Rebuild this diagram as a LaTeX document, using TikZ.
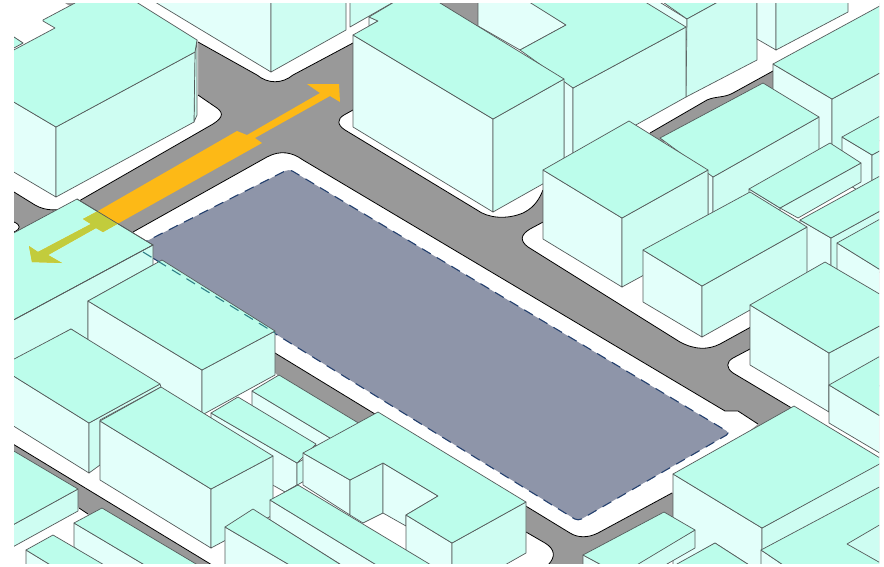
\documentclass[tikz,border=0pt]{standalone}
\usepackage{tikz}
\definecolor{RoadGray}{HTML}{999999}
\definecolor{SiteBlue}{HTML}{8E95A9}
\definecolor{SiteDash}{HTML}{24406E}
\definecolor{CutTeal}{HTML}{2F7F86}
\definecolor{RoofMint}{HTML}{BCFDEB}
\definecolor{WallLight}{HTML}{E3FFFA}
\definecolor{WallPale}{HTML}{CEFDF2}
\definecolor{LineGray}{HTML}{555B5B}
\definecolor{ArrowAmber}{HTML}{FDB916}
\definecolor{ArrowOlive}{HTML}{C2CC3C}
\newcommand{\arrowshape}{(339,84) -- (340,102) -- (330,96) -- (255,138) -- (262,143) -- (119,223) -- (103,232) -- (96,228) -- (48,255) -- (62,263) -- (32,262) -- (29,246) -- (38,252) -- (91,224) -- (83,219) -- (98,211) -- (237,131) -- (247,135) -- (320,93) -- (307,84) -- cycle}
\newcommand{\cornerroof}{(-20,251) -- (77,199) -- (153,245) -- (-20,338) -- cycle}
\newcommand{\curbnw}{(-20,171) -- (35,205) .. controls (45,211) and (60,212) .. (72,205) -- (213,124) .. controls (224,117) and (224,112) .. (214,106) -- (198,95)}
\newcommand{\curbnorth}{(198,42) -- (257,75) .. controls (268,84) and (282,84) .. (293,75) -- (353,43) -- (440,-5)}
\newcommand{\curbmid}{(353,110) -- (344,115) .. controls (337,119) and (337,125) .. (345,130) -- (477,210) .. controls (488,218) and (506,220) .. (523,213) .. controls (531,209) and (538,203) .. (543,190)}
\newcommand{\curbback}{(650,133) -- (707,100) .. controls (716,96) and (724,98) .. (733,93) -- (773,71)}
\newcommand{\curbeast}{(545,221) -- (530,229) .. controls (520,235) and (520,241) .. (528,247) -- (680,342) .. controls (695,350) and (708,350) .. (720,344) -- (760,322)}
\newcommand{\curbfar}{(750,349) -- (733,358) .. controls (726,362) and (726,368) .. (733,373) -- (795,410)}
\newcommand{\curbsitetop}{(133,232) -- (267,157) .. controls (280,150) and (292,152) .. (303,160) -- (725,411) -- (738,411) -- (758,424)}
\newcommand{\curbsitelow}{(672,493) -- (598,533) .. controls (588,538) and (578,538) .. (570,533) -- (275,353)}
\newcommand{\curbsouth}{(526,532) -- (545,543) .. controls (555,549) and (556,557) .. (548,565) -- (530,580)}
\begin{document}
\begin{tikzpicture}[
    x=1pt,y=-1pt,
    curb/.style={draw=black,line width=0.8pt},
    roofface/.style={draw=LineGray,line width=0.7pt,line join=round,fill=RoofMint},
    leftwall/.style={draw=LineGray,line width=0.7pt,line join=round,fill=WallLight},
    rightwall/.style={draw=LineGray,line width=0.7pt,line join=round,fill=WallPale},
    sitedash/.style={line width=1.1pt,dash pattern=on 10pt off 7pt}
  ]
  \useasboundingbox (0,0) rectangle (884,566);
  \begin{scope}
    \clip (14,3) rectangle (879,563);
    \fill[RoadGray] (0,0) rectangle (884,566);
    \fill[white] \curbnw -- (198,-20) -- (-20,-20) -- cycle;
    \draw[curb] \curbnw;
    \fill[white] \curbnorth -- (440,-20) -- (101,-20) -- cycle;
    \draw[curb] \curbnorth;
    \fill[white] \curbmid -- \curbback -- (900,0) -- (900,-20) -- (478,-20) -- (478,40) -- cycle;
    \draw[curb] \curbmid;
    \draw[curb] \curbback;
    \fill[white] \curbeast -- (900,300) -- (900,60) -- (790,60) -- (790,90) -- (763,90) -- (660,145) -- (545,180) -- cycle;
    \draw[curb] \curbeast;
    \fill[white] \curbfar -- (900,475) -- (900,280) -- cycle;
    \draw[curb] \curbfar;
    \fill[white] \curbsitetop -- \curbsitelow -- cycle;
    \draw[curb] \curbsitetop;
    \draw[curb] \curbsitelow;
    \fill[white] (0,215) -- (14,222) .. controls (21,225) and (21,229) .. (14,232) -- (0,238) -- cycle;
    \draw[curb] (0,215) -- (14,222) .. controls (21,225) and (21,229) .. (14,232) -- (0,238);
    \fill[white] (-20,424) -- (240,582) -- (530,582) -- (530,580) -- (548,565) .. controls (556,557) and (555,549) .. (545,543) -- (526,532) -- (526,505) -- (378,415) -- (358,425) -- (280,378) -- (153,250) -- (77,205) -- (-20,260) -- cycle;
    \draw[curb] (-20,424) -- (240,582);
    \draw[curb] \curbsouth;
    \fill[white] (-20,600) -- (-20,470) -- (79,508) -- (88,514) -- (110,600) -- cycle;
    \draw[curb] (79,508) -- (88,514);
    \fill[white] (695,530) -- (673,520) -- (673,600) -- (640,600) -- cycle;
    \fill[RoadGray] (65,3) -- (75,3) -- (70,6) -- cycle;

    % site
    \draw[fill=SiteBlue,draw=SiteDash,sitedash,rounded corners=4pt] (135,247) -- (289,169) -- (730,433) -- (578,521) -- cycle;

    % north row
    \draw[leftwall] (150,-10) -- (150,-1) -- (271,72) -- (271,-10) -- cycle;
    \draw[rightwall] (271,72) -- (346,30) -- (346,-10) -- (271,-10) -- cycle;
    \draw[rightwall] (350,-10) -- (350,27) -- (392,3) -- (392,-10) -- cycle;
    \draw[leftwall] (369,17) -- (378,21) -- (369,26) -- cycle;
    \draw[leftwall] (-20,15) -- (23,43) -- (-20,65) -- cycle;
    \draw[roofface] (-20,15) -- (14,37) -- (23,43) -- (14,48) -- (-20,65) -- cycle;
    \draw[leftwall] (-20,82) -- (56,127) -- (56,197) -- (-20,152) -- cycle;
    \draw[rightwall] (195,52) -- (197,40) -- (197,115) -- (194,122) -- cycle;
    \draw[rightwall] (56,127) -- (195,52) -- (194,122) -- (56,197) -- cycle;
    \draw[roofface] (-20,68) -- (55,28) -- (43,21) -- (43,20) -- (75,3) -- (70,-5) -- (125,-5) -- (197,40) -- (195,52) -- (56,127) -- (-20,82) -- cycle;

    % behind the middle row
    \draw[leftwall] (640,-10) -- (687,19) -- (687,40) -- (640,10) -- cycle;
    \draw[roofface] (650,-7) -- (687,19) -- (727,-3) -- cycle;
    \draw[rightwall] (687,19) -- (727,-3) -- (757,-3) -- (757,60) -- (686,97) -- cycle;
    \draw[leftwall] (757,-3) -- (776,-3) -- (776,50) -- (757,39) -- cycle;
    \draw[rightwall] (776,50) -- (776,-3) -- (848,-3) -- (848,12) -- cycle;
    \draw[leftwall] (478,-5) -- (478,26) -- (520,50) -- (566,25) -- (520,-5) -- cycle;
    \draw[leftwall] (564,79) -- (573,88) -- (573,160) -- (564,165) -- cycle;
    \draw[rightwall] (573,88) -- (686,27) -- (686,97) -- (573,160) -- cycle;
    \draw[roofface] (520,50) -- (566,25) -- (526,0) -- (642,0) -- (686,27) -- (573,88) -- cycle;
    \draw[leftwall] (353,35) -- (493,119) -- (493,212) -- (353,127) -- cycle;
    \draw[rightwall] (493,119) -- (564,79) -- (564,172) -- (493,212) -- cycle;
    \draw[roofface] (353,35) -- (378,21) -- (369,17) -- (406,-5) -- (427,-5) -- (564,79) -- (493,119) -- cycle;

    % east
    \draw[leftwall] (773,64) -- (832,99) -- (832,160) -- (773,125) -- cycle;
    \draw[rightwall] (832,99) -- (900,62) -- (900,130) -- (832,165) -- cycle;
    \draw[roofface] (773,64) -- (900,-5) -- (900,62) -- (832,99) -- cycle;
    \draw[leftwall] (842,137) -- (872,155) -- (872,200) -- (842,180) -- cycle;
    \draw[rightwall] (872,155) -- (900,140) -- (900,200) -- (872,215) -- cycle;
    \draw[roofface] (842,137) -- (900,105) -- (900,140) -- (872,155) -- cycle;
    \draw[leftwall] (713,177) -- (708,170) -- (708,245) -- (713,245) -- cycle;
    \draw[rightwall] (713,177) -- (819,117) -- (819,180) -- (713,240) -- cycle;
    \draw[roofface] (660,138) -- (763,83) -- (819,117) -- (713,177) -- cycle;
    \draw[leftwall] (749,189) -- (780,208) -- (780,212) -- (749,193) -- cycle;
    \draw[rightwall] (780,208) -- (861,163) -- (861,182) -- (798,218) -- cycle;
    \draw[roofface] (749,189) -- (830,143) -- (861,163) -- (780,208) -- cycle;
    \draw[leftwall] (800,220) -- (831,238) -- (831,300) -- (800,280) -- cycle;
    \draw[rightwall] (831,238) -- (900,200) -- (900,260) -- (831,300) -- cycle;
    \draw[roofface] (800,220) -- (900,165) -- (900,200) -- (831,238) -- cycle;
    \draw[leftwall] (837,243) -- (900,282) -- (900,340) -- (837,300) -- cycle;
    \draw[roofface] (837,243) -- (900,208) -- (900,282) -- cycle;
    \draw[leftwall] (543,170) -- (622,218) -- (622,287) -- (543,239) -- cycle;
    \draw[rightwall] (622,218) -- (708,170) -- (708,240) -- (622,287) -- cycle;
    \draw[roofface] (543,170) -- (629,121) -- (708,170) -- (622,218) -- cycle;
    \draw[leftwall] (643,250) -- (702,286) -- (702,337) -- (643,302) -- cycle;
    \draw[rightwall] (702,286) -- (807,227) -- (807,278) -- (702,337) -- cycle;
    \draw[roofface] (643,250) -- (750,192) -- (807,227) -- (702,286) -- cycle;
    \draw[leftwall] (750,305) -- (829,353) -- (829,412) -- (750,365) -- cycle;
    \draw[rightwall] (829,353) -- (900,315) -- (900,375) -- (829,412) -- cycle;
    \draw[roofface] (750,305) -- (825,262) -- (900,306) -- (900,315) -- (829,353) -- cycle;
    \draw[leftwall] (829,385) -- (900,428) -- (900,465) -- (829,423) -- cycle;
    \draw[roofface] (829,385) -- (900,345) -- (900,428) -- cycle;

    % south east
    \draw[leftwall] (673,474) -- (762,528) -- (762,600) -- (673,600) -- cycle;
    \draw[rightwall] (762,528) -- (885,460) -- (885,600) -- (762,600) -- cycle;
    \draw[roofface] (673,474) -- (794,406) -- (885,461) -- (762,528) -- cycle;
    \draw[leftwall] (761,550) -- (835,600) -- (761,600) -- cycle;
    \draw[roofface] (761,550) -- (900,476) -- (900,600) -- (835,600) -- cycle;
    \draw[rightwall] (847,544) -- (900,513) -- (900,574) -- cycle;
    \draw[leftwall] (583,555) -- (620,575) -- (583,575) -- cycle;
    \draw[rightwall] (695,530) -- (695,548) -- (660,568) -- (635,564) -- cycle;
    \draw[roofface] (583,555) -- (664,512) -- (695,530) -- (620,575) -- cycle;
    \draw[leftwall] (715,543) -- (760,572) -- (665,572) -- cycle;
    \draw[roofface] (677,564) -- (715,543) -- (746,563) -- (760,572) -- (665,572) -- cycle;

    % corner and south west
    \draw[roofface] \cornerroof;
    \draw[rightwall] (-20,338) -- (153,245) -- (153,265) -- (88,301) -- (88,340) -- (71,329) -- (-20,380) -- cycle;
    \fill[ArrowAmber] \arrowshape;
    \begin{scope}
      \clip \cornerroof;
      \fill[ArrowOlive] \arrowshape;
    \end{scope}
    \draw[draw=LineGray,line width=0.7pt] (77,199) -- (153,245) -- (-20,338);
    \draw[leftwall] (88,301) -- (202,370) -- (202,440) -- (88,370) -- cycle;
    \draw[rightwall] (202,370) -- (275,331) -- (275,375) -- (202,415) -- cycle;
    \draw[roofface] (88,301) -- (162,260) -- (275,331) -- (202,370) -- cycle;
    \draw[draw=CutTeal,sitedash] (143,252) -- (275,333);
    \draw[leftwall] (252,391) -- (340,444) -- (340,460) -- (252,408) -- cycle;
    \draw[roofface] (252,391) -- (279,375) -- (370,430) -- (340,444) -- cycle;
    \draw[leftwall] (211,413) -- (297,463) -- (297,485) -- (285,492) -- (211,450) -- cycle;
    \draw[rightwall] (297,463) -- (320,450) -- (320,472) -- (285,492) -- (297,485) -- cycle;
    \draw[roofface] (211,413) -- (238,397) -- (316,444) -- (297,463) -- cycle;
    \draw[leftwall] (-1,367) -- (89,423) -- (89,473) -- (-1,417) -- cycle;
    \draw[rightwall] (89,423) -- (160,384) -- (161,387) -- (100,420) -- (100,465) -- (89,473) -- cycle;
    \draw[roofface] (-1,367) -- (71,329) -- (160,384) -- (89,423) -- cycle;
    \draw[leftwall] (100,421) -- (211,489) -- (211,548) -- (100,480) -- cycle;
    \draw[rightwall] (211,489) -- (273,456) -- (273,515) -- (211,548) -- cycle;
    \draw[roofface] (100,421) -- (161,387) -- (273,456) -- (211,489) -- cycle;

    % notched block
    \draw[leftwall] (303,453) -- (350,480) -- (350,515) -- (303,485) -- cycle;
    \draw[rightwall] (350,480) -- (383,463) -- (383,513) -- (363,523) -- (350,515) -- cycle;
    \draw[leftwall] (383,463) -- (438,496) -- (406,515) -- (406,526) -- (383,513) -- cycle;
    \draw[leftwall] (406,515) -- (452,543) -- (452,600) -- (406,600) -- cycle;
    \draw[rightwall] (452,543) -- (526,502) -- (526,553) -- (452,595) -- cycle;
    \draw[roofface] (303,453) -- (378,412) -- (526,502) -- (452,543) -- (406,515) -- (438,496) -- (383,463) -- (350,480) -- cycle;
    \draw[leftwall] (270,500) -- (406,583) -- (370,583) -- (270,520) -- cycle;
    \draw[roofface] (270,500) -- (298,485) -- (461,583) -- (406,583) -- cycle;
    \draw[leftwall] (225,527) -- (310,577) -- (225,577) -- cycle;
    \draw[roofface] (225,527) -- (253,509) -- (360,577) -- (310,577) -- cycle;

    % lower left
    \draw[rightwall] (-20,543) -- (78,489) -- (78,511) -- (-20,565) -- cycle;
    \draw[roofface] (-20,431) -- (78,489) -- (-20,543) -- cycle;
    \draw[leftwall] (74,523) -- (175,583) -- (120,583) -- (74,547) -- cycle;
    \draw[roofface] (74,523) -- (102,508) -- (228,583) -- (175,583) -- cycle;
    \draw[leftwall] (26,550) -- (80,583) -- (26,583) -- cycle;
    \draw[roofface] (26,550) -- (53,535) -- (135,583) -- (80,583) -- cycle;
  \end{scope}
\end{tikzpicture}
\end{document}
